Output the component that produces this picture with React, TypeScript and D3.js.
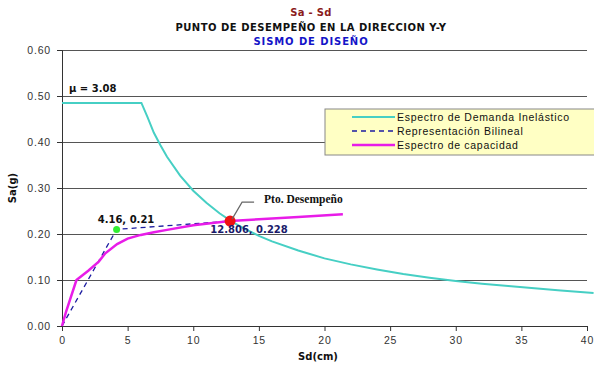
import React, { useEffect, useRef } from "react";
import * as d3 from "d3";

// Espectro de demanda inelástico (Sd cm, Sa g)
const demandaSd = [0, 6.05, 6.5, 7, 7.5, 8, 9, 10, 11, 12, 13, 14, 15, 16, 18, 20, 22, 24, 26, 28, 30, 32, 34, 36, 38, 40, 40.5];
const demandaSa = [0.485, 0.485, 0.455, 0.42, 0.393, 0.368, 0.327, 0.294, 0.268, 0.245, 0.226, 0.21, 0.196, 0.184, 0.164, 0.147, 0.134, 0.123, 0.113, 0.105, 0.098, 0.092, 0.087, 0.082, 0.077, 0.073, 0.072];

// Espectro de capacidad
const capacidadSd = [0, 0.3, 1.1, 2.0, 2.8, 3.3, 4.2, 5, 6, 7, 8, 10, 12.8, 15, 18, 21.4];
const capacidadSa = [0, 0.03, 0.1, 0.12, 0.14, 0.158, 0.178, 0.19, 0.198, 0.204, 0.209, 0.219, 0.228, 0.232, 0.237, 0.243];

// Representación bilineal
const bilinealSd = [0, 4.16, 12.806];
const bilinealSa = [0, 0.21, 0.228];

const xTicks = [0, 5, 10, 15, 20, 25, 30, 35, 40];
const yTicks = [0, 0.1, 0.2, 0.3, 0.4, 0.5, 0.6];

const legendItems = ["Espectro de Demanda Inelástico", "Representación Bilineal", "Espectro de capacidad"];

const App = () => {
  const ref = useRef<SVGSVGElement>(null);

  useEffect(() => {
    const svg = d3.select(ref.current);
    svg.selectAll("*").remove();

    const x = d3.scaleLinear().domain([0, 40]).range([62, 587]);
    const y = d3.scaleLinear().domain([0, 0.6]).range([326, 50]);

    // titles
    const titles = [
      { t: "Sa - Sd", c: "#8b1c1c", y: 16, ls: 0.3 },
      { t: "PUNTO DE DESEMPEÑO EN LA DIRECCION Y-Y", c: "#111", y: 31, ls: 0.5 },
      { t: "SISMO DE DISEÑO", c: "#1414c8", y: 45, ls: 0.9 },
    ];
    svg.selectAll(".title").data(titles).enter().append("text")
      .attr("x", 311).attr("y", d => d.y)
      .attr("text-anchor", "middle")
      .attr("font-family", "DejaVu Sans").attr("font-weight", "bold")
      .attr("font-size", 10).attr("letter-spacing", d => d.ls)
      .attr("fill", d => d.c)
      .text(d => d.t);

    // gridlines
    svg.append("g").selectAll("line").data(yTicks.filter(v => v > 0)).enter().append("line")
      .attr("x1", 62).attr("x2", 587)
      .attr("y1", d => Math.round(y(d)) + 0.5).attr("y2", d => Math.round(y(d)) + 0.5)
      .attr("stroke", "#555").attr("stroke-width", 1);

    // axes
    const yAxis = svg.append("g").attr("transform", "translate(62,0)")
      .call(d3.axisLeft(y).tickValues(yTicks).tickFormat(d3.format(".2f")).tickSize(5).tickPadding(6));
    const xAxis = svg.append("g").attr("transform", "translate(0,326)")
      .call(d3.axisBottom(x).tickValues(xTicks).tickFormat(d3.format("d")).tickSize(5).tickPadding(6));
    [yAxis, xAxis].forEach(a => {
      a.selectAll("path").attr("stroke", "#333");
      a.selectAll("line").attr("stroke", "#333");
      a.selectAll("text").attr("font-family", "Liberation Sans").attr("font-size", 10.5)
        .attr("fill", "#333").attr("letter-spacing", 0.8);
    });

    // axis titles
    svg.append("text").attr("x", 318).attr("y", 360).attr("text-anchor", "middle")
      .attr("font-family", "DejaVu Sans").attr("font-weight", "bold").attr("font-size", 10)
      .attr("fill", "#111").text("Sd(cm)");
    svg.append("text").attr("transform", "translate(16,188) rotate(-90)").attr("text-anchor", "middle")
      .attr("font-family", "DejaVu Sans").attr("font-weight", "bold").attr("font-size", 10)
      .attr("fill", "#111").text("Sa(g)");

    const line = d3.line<[number, number]>().x(d => x(d[0])).y(d => y(d[1]));

    // demanda
    svg.append("path").datum(demandaSd.map((s, i) => [s, demandaSa[i]] as [number, number]))
      .attr("fill", "none").attr("stroke", "#46cfc4").attr("stroke-width", 2).attr("d", line);

    // bilineal
    svg.append("path").datum(bilinealSd.map((s, i) => [s, bilinealSa[i]] as [number, number]))
      .attr("fill", "none").attr("stroke", "#1c1ca0").attr("stroke-width", 1.3)
      .attr("stroke-dasharray", "5,4").attr("d", line);

    // capacidad
    svg.append("path").datum(capacidadSd.map((s, i) => [s, capacidadSa[i]] as [number, number]))
      .attr("fill", "none").attr("stroke", "#e81ce8").attr("stroke-width", 2.5).attr("d", line);

    // puntos
    svg.append("circle").attr("cx", x(bilinealSd[1])).attr("cy", y(bilinealSa[1]))
      .attr("r", 3.5).attr("fill", "#33ee33");
    svg.append("circle").attr("cx", x(bilinealSd[2])).attr("cy", y(bilinealSa[2]))
      .attr("r", 5.5).attr("fill", "#ee1111");

    // leader line
    const px = x(bilinealSd[2]), py = y(bilinealSa[2]);
    svg.append("polyline")
      .attr("points", `${px + 2},${py - 2} ${px + 12},${py - 19} ${px + 24},${py - 19}`)
      .attr("fill", "none").attr("stroke", "#666").attr("stroke-width", 1.2);
    svg.append("text").attr("x", px + 34).attr("y", py - 18)
      .attr("font-family", "Liberation Serif").attr("font-weight", "bold").attr("font-size", 11.5)
      .attr("fill", "#111").text("Pto. Desempeño");

    // etiquetas de datos
    svg.append("text").attr("x", 126).attr("y", 223).attr("text-anchor", "middle")
      .attr("font-family", "DejaVu Sans").attr("font-weight", "bold").attr("font-size", 10)
      .attr("fill", "#111").text("4.16, 0.21");
    svg.append("text").attr("x", 249).attr("y", 233).attr("text-anchor", "middle")
      .attr("font-family", "DejaVu Sans").attr("font-weight", "bold").attr("font-size", 10)
      .attr("fill", "#1a1a6a").text("12.806, 0.228");
    svg.append("text").attr("x", 69).attr("y", 92)
      .attr("font-family", "DejaVu Sans").attr("font-weight", "bold").attr("font-size", 10)
      .attr("fill", "#111").text("μ = 3.08");

    // leyenda
    const lg = svg.append("g");
    lg.append("rect").attr("x", 325).attr("y", 109).attr("width", 275).attr("height", 46)
      .attr("fill", "#ffffc4").attr("stroke", "#888").attr("stroke-width", 1);
    const legendStyles = [
      { c: "#46cfc4", w: 2, dash: null },
      { c: "#1c1ca0", w: 1.3, dash: "5,4" },
      { c: "#e81ce8", w: 2.5, dash: null },
    ];
    const rowsY = [117, 131, 145];
    legendItems.forEach((t, i) => {
      lg.append("line").attr("x1", 352).attr("x2", 395).attr("y1", rowsY[i]).attr("y2", rowsY[i])
        .attr("stroke", legendStyles[i].c).attr("stroke-width", legendStyles[i].w)
        .attr("stroke-dasharray", legendStyles[i].dash);
      lg.append("text").attr("x", 397).attr("y", rowsY[i] + 4)
        .attr("font-family", "Liberation Sans").attr("font-size", 10.5)
        .attr("letter-spacing", 0.7).attr("fill", "#111").text(t);
    });
  }, []);

  return (
    <svg ref={ref} width={594} height={366}
      style={{ position: "absolute", left: 0, top: 0, background: "#fff" }} />
  );
};

export default App;
